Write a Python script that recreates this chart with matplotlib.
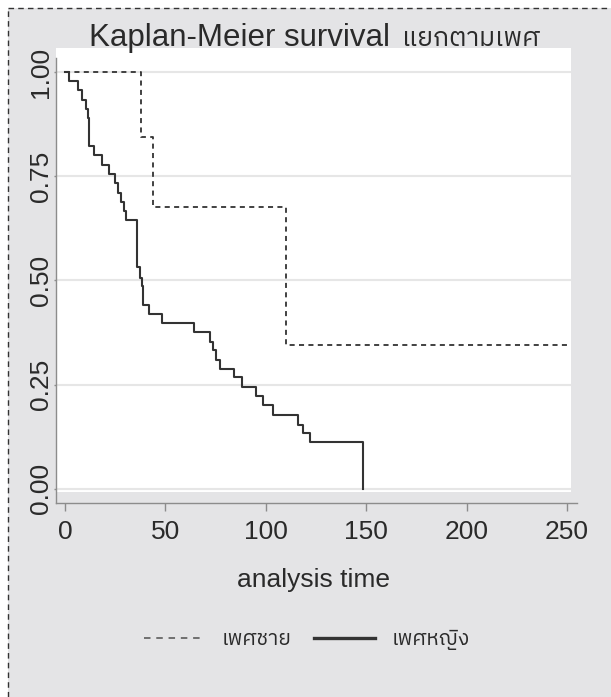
import matplotlib
matplotlib.use("Agg")
import matplotlib.pyplot as plt
from matplotlib import font_manager, ft2font
from matplotlib.lines import Line2D
from matplotlib.patches import Rectangle

# ---------------- data ----------------
female_time = [0, 2.0, 6.3, 8.6, 10.3, 11.6, 12.1, 14.6, 18.5, 22.0, 25.0, 26.2,
               27.8, 29.2, 30.2, 35.8, 37.3, 38.1, 38.9, 41.8, 48.1, 64.0, 72.2,
               73.5, 75.2, 77.2, 84.2, 88.0, 95.1, 98.8, 103.7, 116.2, 118.7,
               122.0, 148.3]
female_surv = [1.0, 0.978, 0.956, 0.933, 0.911, 0.889, 0.822, 0.800, 0.778, 0.756,
               0.733, 0.711, 0.689, 0.667, 0.644, 0.533, 0.505, 0.486, 0.441,
               0.420, 0.398, 0.375, 0.353, 0.332, 0.310, 0.288, 0.267, 0.245,
               0.222, 0.200, 0.177, 0.153, 0.133, 0.111, 0.0]
male_time = [0, 37.7, 44.0, 109.9, 251.5]
male_surv = [1.0, 0.845, 0.676, 0.345, 0.345]

x_ticks = [0, 50, 100, 150, 200, 250]
y_ticks = [0.0, 0.25, 0.5, 0.75, 1.0]
y_ticklabels = ["0.00", "0.25", "0.50", "0.75", "1.00"]

title_en = "Kaplan-Meier survival"
title_th = "แยกตามเพศ"
xlabel = "analysis time"
label_male = "เพศชาย"
label_female = "เพศหญิง"

# ---------------- fonts ----------------
def find_thai_family():
    prefer = []
    for f in font_manager.fontManager.ttflist:
        try:
            ft = ft2font.FT2Font(f.fname)
            if ft.get_char_index(0x0E01) and ft.get_char_index(0x0E28) and ft.get_char_index(0x0E0D):
                prefer.append(f.name)
        except Exception:
            pass
    for name in prefer:
        if "Sans" in name:
            return name
    return prefer[0] if prefer else None

thai = find_thai_family()
latin = "Liberation Sans"
fam = [latin] + ([thai] if thai else []) + ["DejaVu Sans"]
thai_fam = ([thai] if thai else []) + [latin, "DejaVu Sans"]
plt.rcParams["font.family"] = fam

W, H = 611, 697
fig = plt.figure(figsize=(W / 100, H / 100), dpi=100, facecolor="white")

bg = "#e4e4e6"
border_l = 8
border_t = 8
fig.patches.append(Rectangle((border_l / W, 0), 1 - border_l / W, 1 - border_t / H,
                             transform=fig.transFigure, facecolor=bg, edgecolor="none", zorder=-5))
fig.lines.append(Line2D([border_l / W, border_l / W], [0, 1 - border_t / H], transform=fig.transFigure,
                        color="#333333", lw=1.0, linestyle=(0, (4, 3)), zorder=-4))
fig.lines.append(Line2D([border_l / W, 1], [1 - border_t / H, 1 - border_t / H], transform=fig.transFigure,
                        color="#333333", lw=1.0, linestyle=(0, (4, 3)), zorder=-4))

ax_left, ax_right, ax_top, ax_bot = 56, 571, 48, 492
ax = fig.add_axes([ax_left / W, 1 - ax_bot / H, (ax_right - ax_left) / W, (ax_bot - ax_top) / H])
ax.set_facecolor("white")
ax.set_zorder(1)

ax.set_xlim(-4.5, 252.0)
ax.set_ylim(-0.008, 1.058)

for yv in y_ticks:
    ax.axhline(yv, color="#e6e6e6", lw=1.5, zorder=1)

ax.step(female_time, female_surv, where="post", color="#333333", lw=1.5, zorder=3,
        label=label_female)
ax.step(male_time, male_surv, where="post", color="#333333", lw=1.3, zorder=3,
        linestyle=(0, (2.8, 2.4)), label=label_male)

for s in ["top", "right"]:
    ax.spines[s].set_visible(False)
ax.spines["left"].set_color("#8c8c8c")
ax.spines["left"].set_linewidth(1.0)
ax.spines["left"].set_bounds(-0.035, 1.034)
ax.spines["bottom"].set_color("#8c8c8c")
ax.spines["bottom"].set_linewidth(1.0)
ax.spines["bottom"].set_position(("outward", 8))
ax.spines["bottom"].set_bounds(-4.5, 255)

ax.set_xticks(x_ticks)
ax.set_xticklabels([str(v) for v in x_ticks])
ax.set_yticks(y_ticks)
ax.set_yticklabels(y_ticklabels, rotation=90, va="center")
ax.tick_params(axis="x", length=6, width=1.0, color="#8c8c8c", pad=6, labelsize=19,
               labelcolor="#2a2a2a")
ax.tick_params(axis="y", length=1.5, width=1.0, color="#8c8c8c", pad=1, labelsize=19,
               labelcolor="#2a2a2a")

ax.set_xlabel(xlabel, fontsize=19, color="#2a2a2a", va="center")
ax.xaxis.set_label_coords(0.5, -(580 - ax_bot) / (ax_bot - ax_top))

# title
fig.text(390 / W, 1 - 46 / H, title_en, ha="right", va="baseline", fontsize=22.5,
         color="#2a2a2a")
fig.text(402 / W, 1 - 46 / H, title_th, ha="left", va="baseline", fontsize=19,
         color="#2a2a2a", family=thai_fam)

# legend
h_f, l_f = ax.get_legend_handles_labels()
handles = [h_f[1], h_f[0]]
labels = [l_f[1], l_f[0]]
leg = fig.legend(handles, labels, loc="center", bbox_to_anchor=(307 / W, 1 - 640 / H),
                 ncol=2, frameon=False, handlelength=2.9, handletextpad=0.8,
                 columnspacing=1.1, prop={"family": thai_fam, "size": 15})
for t in leg.get_texts():
    t.set_color("#2a2a2a")
leg.legend_handles[0].set_linestyle((0, (3.6, 3.2)))
leg.legend_handles[0].set_color("#666666")
leg.legend_handles[1].set_linewidth(2.4)

fig.savefig("out.png", dpi=100, facecolor=fig.get_facecolor())
